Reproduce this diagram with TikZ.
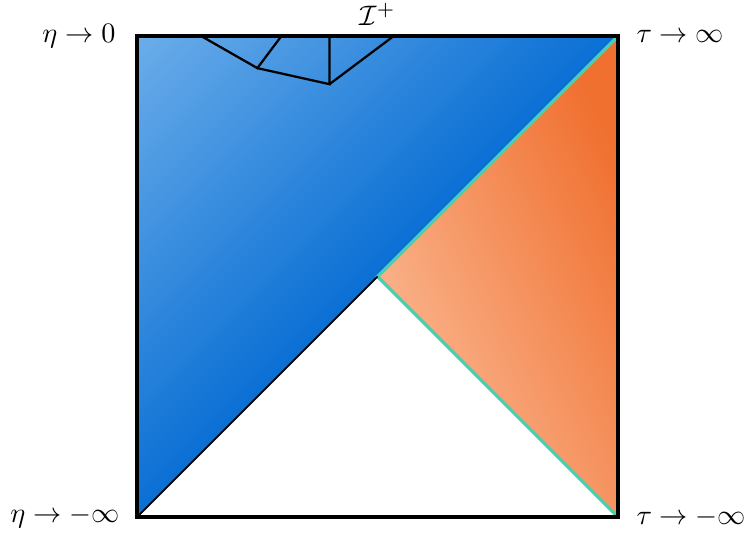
\documentclass[tikz,border=0pt]{standalone}
\usepackage{xcolor}

\definecolor{lightblue}{RGB}{108,174,234}
\definecolor{deepblue}{RGB}{10,111,212}
\definecolor{peach}{RGB}{251,188,152}
\definecolor{darkorange}{RGB}{240,112,48}
\definecolor{teal}{RGB}{70,210,178}

\pgfdeclareverticalshading{blueshade}{100bp}{color(0bp)=(deepblue); color(50bp)=(deepblue); color(86bp)=(lightblue); color(100bp)=(lightblue)}

\begin{document}
\begin{tikzpicture}[line width=0.8pt]
\useasboundingbox (-1.71,-0.19) rectangle (7.57,6.45);

\coordinate (bl) at (0,0);
\coordinate (br) at (6,0);
\coordinate (tl) at (0,6);
\coordinate (tr) at (6,6);
\coordinate (c) at (3,3);

% Shaded regions
\shade[shading=blueshade, shading angle=45]
  (bl) -- (tl) -- (tr) -- cycle;
\shade[top color=darkorange, bottom color=peach, shading angle=-65]
  (c) -- (tr) -- (br) -- cycle;

% Light cone edges
\draw[teal, line width=1.2pt] (br) -- (c) -- (tr);
\draw[line width=0.6pt] (bl) -- (c);

% Lines ending on the boundary
\coordinate (p1) at (1.5,5.6);
\coordinate (p2) at (2.4,5.4);
\draw (0.8,6) -- (p1) -- (1.8,6);
\draw (p1) -- (p2) -- (2.4,6);
\draw (p2) -- (3.2,6);

% Boundary
\draw[line width=1.3pt] (bl) rectangle (tr);

% Labels
\node[left] (eta0) at (-0.14,6) {$\eta \to 0$};
\node[left] (etainf) at (-0.09,0) {$\eta \to -\infty$};
\node[right] (tauinf) at (6.1,6) {$\tau \to \infty$};
\node[right] (tauminf) at (6.1,0) {$\tau \to -\infty$};
\node[above] (scri) at (3,6) {$\mathcal{I}^+$};

\end{tikzpicture}
\end{document}
